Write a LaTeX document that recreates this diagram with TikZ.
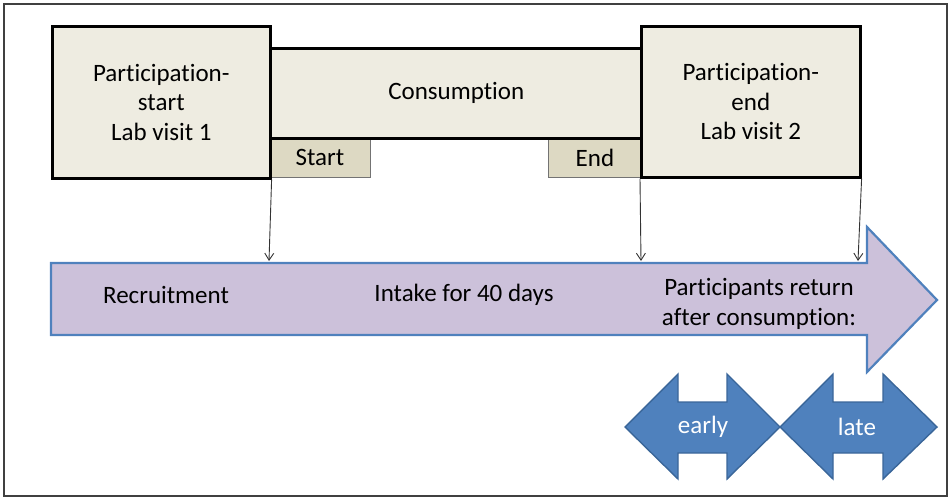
\documentclass[tikz,border=0pt]{standalone}
\usepackage{fontspec}
\setmainfont{Carlito}[RawFeature=-liga]
\usetikzlibrary{arrows.meta}
\definecolor{beige}{HTML}{EEECE1}
\definecolor{tan}{HTML}{DDD9C3}
\definecolor{lav}{HTML}{CCC1DA}
\definecolor{ablue}{HTML}{4F81BD}
\definecolor{dblue}{HTML}{3A6699}
\tikzset{
  txt/.style={font=\fontsize{25}{29.5}\selectfont, align=center, inner sep=0pt},
  bigbox/.style={draw=black, line width=2.6pt, fill=beige, inner sep=0pt, anchor=north west},
  tabbox/.style={draw=gray!90!black, line width=0.9pt, fill=tan, inner sep=0pt, anchor=north west},
  conn/.style={draw=black!80, line width=0.9pt, -{Straight Barb[length=7pt,width=9pt,line width=0.9pt]}},
  timeline/.style={draw=ablue, line width=2.2pt, fill=lav, line join=miter},
  dbl/.style={draw=dblue, line width=1.4pt, fill=ablue, line join=miter}
}
\begin{document}
\begin{tikzpicture}[x=1pt,y=-1pt]
\useasboundingbox (0,0) rectangle (950,498);
\draw[draw=black!75, line width=2pt] (4,4) rectangle (947,496);
% tabs
\node[tabbox, minimum width=101pt, minimum height=40pt] (start) at (269,137) {};
\node[txt] at (start.center) {Start};
\node[tabbox, minimum width=93pt, minimum height=40pt] (end) at (548,137) {};
\node[txt] at (end.center) {End};
% consumption
\node[bigbox, minimum width=372pt, minimum height=90pt] (cons) at (269,47) {};
\node[txt] at (cons.center) {Consumption};
% lab visits
\node[bigbox, minimum width=218pt, minimum height=152pt] (b1) at (51,25) {};
\node[txt] at (b1.center) {Participation-\\start\\Lab visit 1};
\node[bigbox, minimum width=219pt, minimum height=151pt] (b2) at (640,25) {};
\node[txt] at (b2.center) {Participation-\\end\\Lab visit 2};
% timeline arrow
\draw[timeline] (51,263) -- (867,263) -- (867,227) -- (937,300) -- (867,372) -- (867,335) -- (51,335) -- cycle;
\coordinate (t1) at (269,261);
\coordinate (t2) at (641,261);
\coordinate (t3) at (858,261);
\draw[conn] (b1.south east) -- (t1);
\draw[conn] (b2.south west) -- (t2);
\draw[conn] (b2.south east) -- (t3);
\node[txt] (rec) at (166,295) {Recruitment};
\node[txt] (intake) at (464,295) {Intake for 40 days};
\node[txt] (ret) at (759,304) {Participants return\\after consumption:};
% double arrows
\draw[dbl] (625,427) -- (678,374) -- (678,402) -- (727,402) -- (727,374) -- (780,427) -- (727,479) -- (727,453) -- (678,453) -- (678,479) -- cycle;
\draw[dbl] (780,427) -- (833,374) -- (833,402) -- (883,402) -- (883,374) -- (937,427) -- (883,479) -- (883,453) -- (833,453) -- (833,479) -- cycle;
\node[txt, text=white] (early) at (703,427) {early};
\node[txt, text=white] (late) at (857,427) {late};
\end{tikzpicture}
\end{document}
